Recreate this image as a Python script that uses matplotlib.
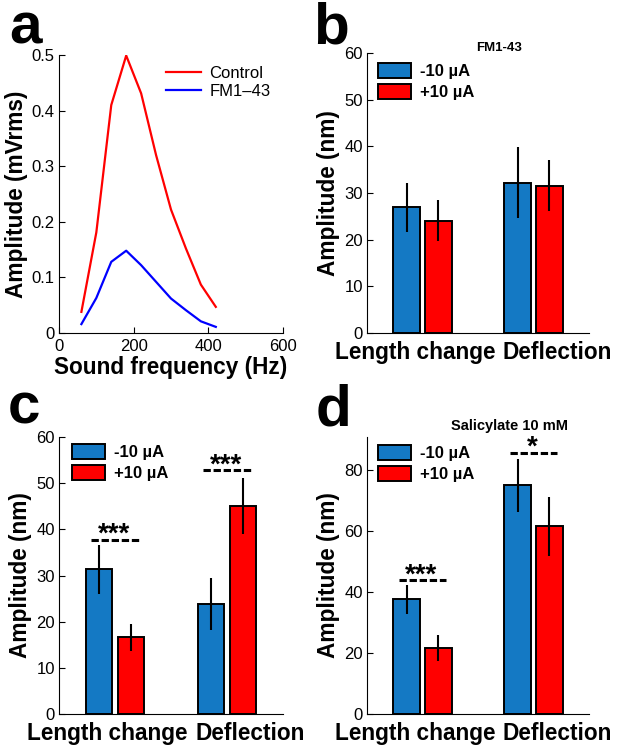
import matplotlib
matplotlib.use("Agg")
import matplotlib.pyplot as plt
import matplotlib.transforms as mtransforms
import numpy as np

plt.rcParams['font.family'] = ['Liberation Sans', 'DejaVu Sans']

# ---------------- data ----------------
freq = [60, 100, 140, 180, 220, 260, 300, 340, 380, 420]
control = [0.038, 0.181, 0.410, 0.499, 0.431, 0.320, 0.222, 0.152, 0.087, 0.047]
fm143 = [0.016, 0.063, 0.128, 0.148, 0.122, 0.092, 0.062, 0.041, 0.021, 0.011]
a_yticks = [0, 0.1, 0.2, 0.3, 0.4, 0.5]
a_yticklabels = ['0', '0.1', '0.2', '0.3', '0.4', '0.5']
a_xticks = [0, 200, 400, 600]

categories = ['Length change', 'Deflection']
series_labels = ['-10 \u00b5A', '+10 \u00b5A']

b_neg = [26.9, 32.2]
b_neg_err = [5.3, 7.6]
b_pos = [24.1, 31.6]
b_pos_err = [4.3, 5.4]

c_neg = [31.3, 23.8]
c_neg_err = [5.2, 5.7]
c_pos = [16.6, 45.1]
c_pos_err = [2.9, 6.1]

d_neg = [37.7, 75.1]
d_neg_err = [4.7, 8.6]
d_pos = [21.6, 61.7]
d_pos_err = [4.3, 9.7]

c_sig = ['***', '***']
c_sig_y = [37.7, 52.8]
d_sig = ['***', '*']
d_sig_y = [44.0, 85.8]

# ---------------- style ----------------
BLUE = '#1479c4'
RED = '#ff0000'
W, H = 617, 750
fig = plt.figure(figsize=(W / 100, H / 100), dpi=100)


def px_axes(left, top, right, bottom):
    return fig.add_axes([left / W, 1 - bottom / H, (right - left) / W, (bottom - top) / H])


def style_axes(ax):
    for s in ['top', 'right']:
        ax.spines[s].set_visible(False)
    for s in ['left', 'bottom']:
        ax.spines[s].set_linewidth(0.8)
    ax.tick_params(direction='in', length=4, width=0.8, labelsize=12, pad=3)


LABEL_FS = 16.3

# ---------------- panel a ----------------
axa = px_axes(59, 55, 283, 333)
style_axes(axa)
axa.plot(freq, control, color='#ff0000', lw=1.6, label='Control')
axa.plot(freq, fm143, color='#0000ff', lw=1.6, label='FM1\u201343')
axa.set_xlim(0, 600)
axa.set_ylim(0, 0.5)
axa.set_xticks(a_xticks)
axa.set_yticks(a_yticks)
axa.set_yticklabels(a_yticklabels)
axa.tick_params(axis='x', pad=4)
axa.set_xlabel('Sound frequency (Hz)', fontsize=LABEL_FS, fontweight='bold', labelpad=2)
axa.set_ylabel('Amplitude (mVrms)', fontsize=LABEL_FS, fontweight='bold', labelpad=3)
axa.legend(loc='upper left', bbox_to_anchor=(0.478, 0.962), frameon=False,
           fontsize=12, handlelength=2.1, handletextpad=0.5, labelspacing=0.2,
           borderaxespad=0, borderpad=0)


# ---------------- bar panels ----------------
def bar_panel(ax, neg, neg_err, pos, pos_err, ylim, yticks, leg_anchor):
    style_axes(ax)
    x = np.arange(1, len(categories) + 1)
    off = 0.143
    bw = 0.24
    h1 = ax.bar(x - off, neg, bw, color=BLUE, edgecolor='black', linewidth=1.4,
                label=series_labels[0], zorder=2)
    h2 = ax.bar(x + off, pos, bw, color=RED, edgecolor='black', linewidth=1.4,
                label=series_labels[1], zorder=2)
    ax.errorbar(x - off, neg, yerr=neg_err, fmt='none', ecolor='black', elinewidth=1.5,
                capsize=0, zorder=3)
    ax.errorbar(x + off, pos, yerr=pos_err, fmt='none', ecolor='black', elinewidth=1.5,
                capsize=0, zorder=3)
    ax.set_xlim(0.5, 2.5)
    ax.set_ylim(*ylim)
    ax.set_yticks(yticks)
    ax.set_xticks(x)
    ax.set_xticklabels(categories, fontsize=LABEL_FS, fontweight='bold')
    ax.tick_params(axis='x', length=0, pad=6)
    for lbl, dx in zip(ax.get_xticklabels(), [-5.4, 17.0]):
        lbl.set_transform(lbl.get_transform() +
                          mtransforms.ScaledTranslation(dx / 72, 0, fig.dpi_scale_trans))
    ax.set_ylabel('Amplitude (nm)', fontsize=LABEL_FS, fontweight='bold', labelpad=3)
    ax.legend(handles=[h1, h2], loc='upper left', bbox_to_anchor=leg_anchor,
              frameon=False, prop={'size': 12, 'weight': 'bold'},
              handlelength=2.0, handleheight=1.0, handletextpad=0.5,
              labelspacing=0.3, borderaxespad=0, borderpad=0)
    return ax


def sig_marks(ax, ys, marks):
    for i, (y, m) in enumerate(zip(ys, marks)):
        xc = i + 1
        ax.plot([xc - 0.215, xc + 0.215], [y, y], color='black', lw=2.2,
                linestyle=(0, (2.4, 0.9)), zorder=4, dash_capstyle='butt')
        ax.annotate(m, xy=(xc - 0.01, y), xytext=(0, -1.5), textcoords='offset points',
                    ha='center', va='baseline', fontsize=20, fontweight='bold')


axb = px_axes(367, 53, 589, 333)
bar_panel(axb, b_neg, b_neg_err, b_pos, b_pos_err, (0, 60), [0, 10, 20, 30, 40, 50, 60],
          (0.0495, 0.964))
axb.text(0.595, 1.018, 'FM1-43', transform=axb.transAxes, ha='center', va='center',
         fontsize=9.5, fontweight='bold')

axc = px_axes(59, 437, 283, 714)
bar_panel(axc, c_neg, c_neg_err, c_pos, c_pos_err, (0, 60), [0, 10, 20, 30, 40, 50, 60],
          (0.058, 0.975))
sig_marks(axc, c_sig_y, c_sig)

axd = px_axes(367, 437, 589, 714)
bar_panel(axd, d_neg, d_neg_err, d_pos, d_pos_err, (0, 91), [0, 20, 40, 60, 80],
          (0.0495, 0.971))
sig_marks(axd, d_sig_y, d_sig)
axd.text(0.644, 1.04, 'Salicylate 10 mM', transform=axd.transAxes, ha='center', va='center',
         fontsize=10.5, fontweight='bold')

# ---------------- panel letters ----------------
for letter, xp, yp in [('a', 9.5, 44), ('b', 313, 44), ('c', 7.5, 424), ('d', 315.5, 426)]:
    fig.text(xp / W, 1 - yp / H, letter, fontsize=42, fontweight='bold', ha='left',
             va='baseline')

fig.savefig('out.png', dpi=100)
